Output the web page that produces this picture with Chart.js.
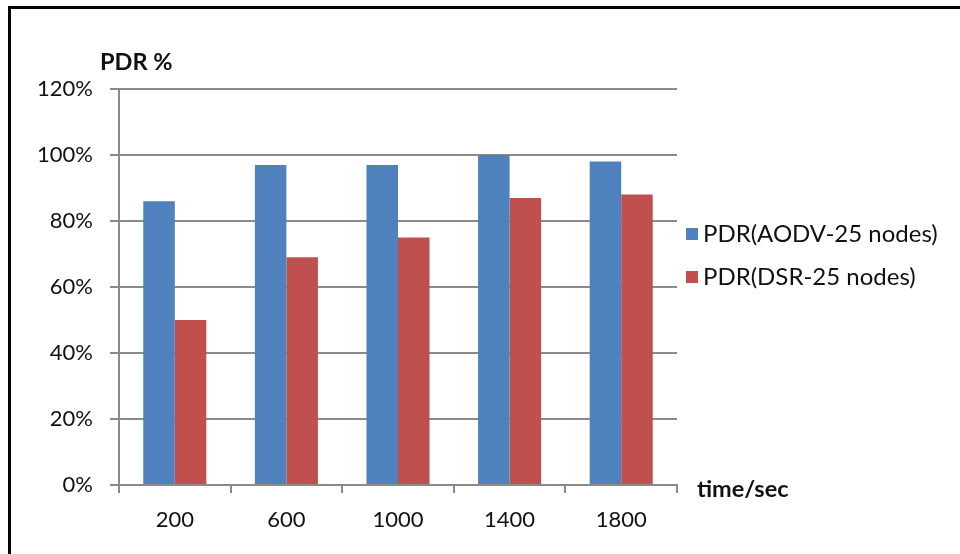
<!DOCTYPE html>
<html>
<head>
<meta charset="utf-8">
<script src="https://cdn.jsdelivr.net/npm/chart.js@4/dist/chart.umd.min.js"></script>
<style>
  html, body { margin: 0; padding: 0; background: #fff; }
  #wrap { position: relative; width: 960px; height: 554px; overflow: hidden; }
  #frame { position: absolute; left: 8px; top: 6px; width: 1000px; height: 600px;
           border-left: 3px solid #000; border-top: 3px solid #000; pointer-events: none; }
  canvas { position: absolute; left: 0; top: 0; }
</style>
</head>
<body>
<div id="wrap">
  <canvas id="c" width="960" height="554"></canvas>
  <div id="frame"></div>
</div>
<script>
// Simulation time (seconds) and packet delivery ratio per protocol
const categories = ['200', '600', '1000', '1400', '1800'];
const aodvPdr = [86, 97, 97, 100, 98];
const dsrPdr = [50, 69, 75, 87, 88];
const yTicks = [0, 20, 40, 60, 80, 100, 120];

const seriesNames = ['PDR(AODV-25 nodes)', 'PDR(DSR-25 nodes)'];
const seriesColors = ['#4F81BD', '#C0504D'];

const FONT = 'Lato, "Open Sans", sans-serif';
const AXIS_GRAY = '#8a8a8a';

// Axis titles and the side legend, placed relative to the plot area
const sideText = {
  id: 'sideText',
  afterDraw(chart) {
    const ctx = chart.ctx;
    const area = chart.chartArea;
    ctx.save();
    ctx.fillStyle = '#111';
    ctx.textBaseline = 'middle';
    ctx.textAlign = 'left';
    ctx.font = 'bold 23.5px ' + FONT;
    ctx.fillText('PDR %', 100, area.top - 27);
    ctx.fillText('time/sec', area.right + 20, area.bottom + 4);

    ctx.font = '24px ' + FONT;
    const rows = [234, 277];
    chart.data.datasets.forEach((ds, i) => {
      const y = rows[i];
      ctx.fillStyle = ds.backgroundColor;
      ctx.fillRect(686, y - 6, 12, 12);
      ctx.fillStyle = '#111';
      ctx.fillText(ds.label, 703, y);
    });
    ctx.restore();
  }
};

new Chart(document.getElementById('c'), {
  type: 'bar',
  data: {
    labels: categories,
    datasets: [
      { label: seriesNames[0], data: aodvPdr, backgroundColor: seriesColors[0] },
      { label: seriesNames[1], data: dsrPdr, backgroundColor: seriesColors[1] }
    ]
  },
  options: {
    responsive: false,
    animation: false,
    events: [],
    layout: { padding: { left: 0, top: 89, right: 283, bottom: 0 } },
    datasets: { bar: { categoryPercentage: 0.565, barPercentage: 1.0 } },
    plugins: { legend: { display: false }, tooltip: { enabled: false }, title: { display: false } },
    scales: {
      x: {
        offset: true,
        afterFit(scale) { scale.height = 69; },
        border: { display: true, color: AXIS_GRAY, width: 2 },
        grid: { offset: true, drawOnChartArea: false, drawTicks: true, tickLength: 8, color: AXIS_GRAY, lineWidth: 2 },
        ticks: { color: '#111', font: { family: FONT, size: 22 }, padding: 14 }
      },
      y: {
        min: 0,
        max: 120,
        afterFit(scale) { scale.width = 119; },
        afterBuildTicks(scale) { scale.ticks = yTicks.map(v => ({ value: v })); },
        border: { display: true, color: AXIS_GRAY, width: 2 },
        grid: { drawTicks: true, tickLength: 9, color: AXIS_GRAY, lineWidth: 2 },
        ticks: {
          color: '#111',
          font: { family: FONT, size: 22 },
          padding: 17,
          callback: v => v + '%'
        }
      }
    }
  },
  plugins: [sideText]
});
</script>
</body>
</html>
